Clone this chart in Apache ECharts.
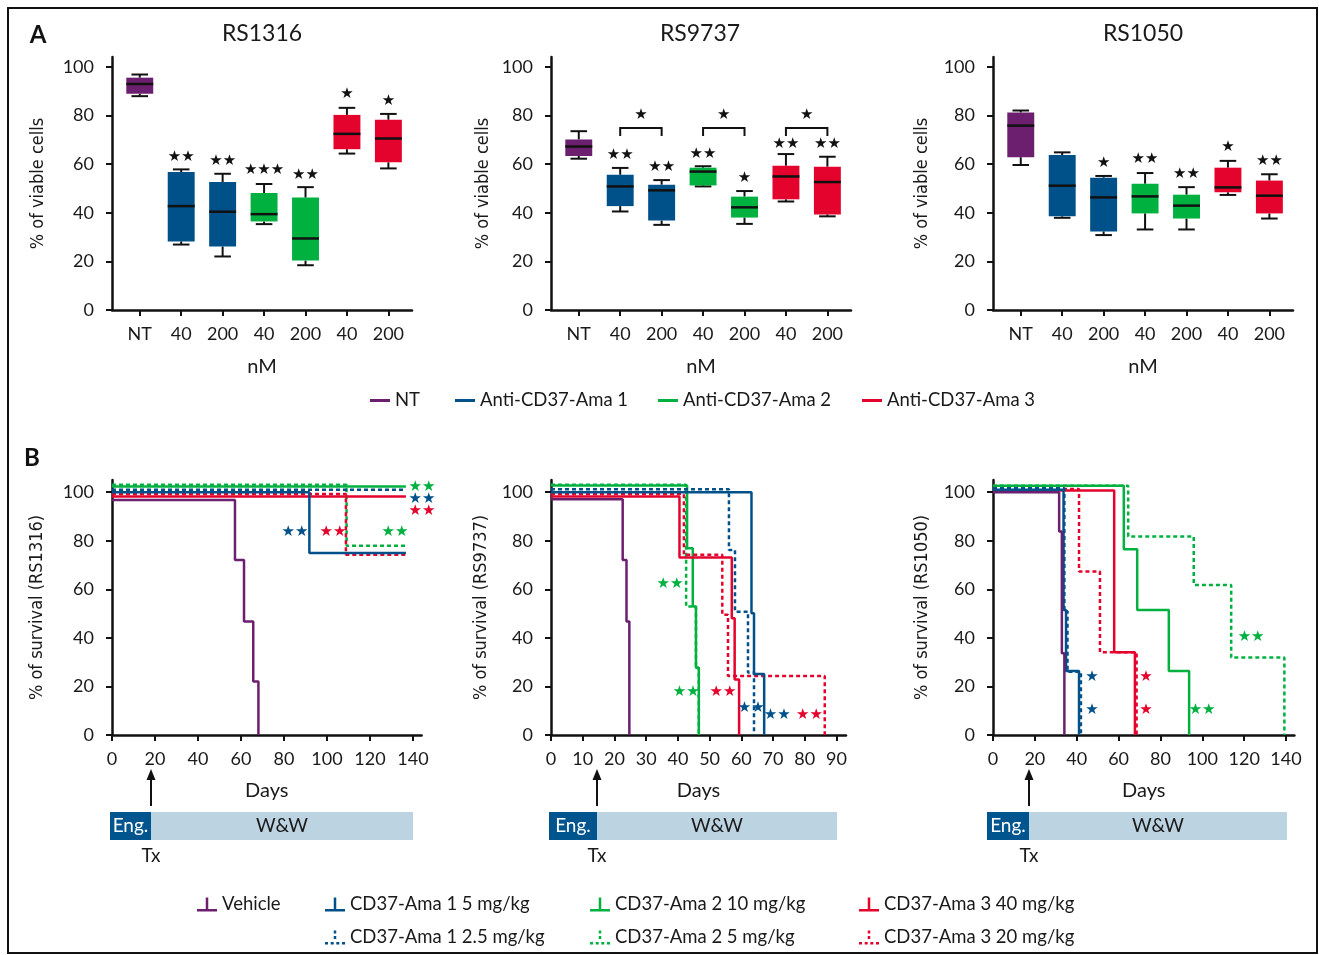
<!DOCTYPE html>
<html><head><meta charset="utf-8">
<script src="https://cdn.jsdelivr.net/npm/echarts@6.0.0/dist/echarts.min.js"></script>
<style>html,body{margin:0;padding:0;background:#fff}#c{width:1319px;height:955px}</style>
</head><body><div id="c"></div>
<script>
// ---------- Panel A data ----------
const categories = ['NT', '40', '200', '40', '200', '40', '200'];
const boxGroup = [0, 1, 1, 2, 2, 3, 3];
const groupNames = ['NT', 'Anti-CD37-Ama 1', 'Anti-CD37-Ama 2', 'Anti-CD37-Ama 3'];
const colors = ['#6b1f6e', '#00508a', '#00b140', '#e4032d'];
const panelTitles = ['RS1316', 'RS9737', 'RS1050'];
const yTicks = [0, 20, 40, 60, 80, 100];
// each box: [min, q1, median, q3, max]
const boxRS1316 = [[87.9, 88.9, 92.9, 95.5, 96.8], [26.9, 28.2, 42.7, 56.7, 57.8], [22.0, 26.1, 40.4, 52.6, 56.0], [35.3, 36.4, 39.4, 48.1, 51.8], [18.4, 20.3, 29.4, 46.2, 50.5], [64.3, 66.1, 72.4, 80.2, 83.1], [58.2, 60.7, 70.5, 78.2, 80.6]];
const boxRS9737 = [[62.2, 63.3, 67.2, 70.1, 73.5], [40.5, 42.7, 50.8, 55.6, 58.4], [35.0, 36.8, 49.2, 51.5, 53.4], [50.8, 51.2, 56.9, 58.5, 59.1], [35.4, 38.0, 42.2, 46.6, 48.9], [44.6, 45.5, 54.9, 59.3, 64.1], [38.5, 39.3, 52.6, 58.9, 63.0]];
const boxRS1050 = [[59.6, 62.8, 75.8, 81.2, 82.0], [37.9, 38.5, 51.1, 63.7, 64.8], [30.8, 32.3, 46.3, 54.4, 55.1], [33.1, 39.7, 46.7, 51.9, 56.3], [33.1, 37.6, 42.9, 47.4, 50.5], [47.3, 48.4, 50.4, 58.5, 61.3], [37.6, 39.7, 47.0, 53.2, 55.8]];
// significance marks [category index, y value, text]
const starsA1316 = [[1, 63.0, '**'], [2, 61.2, '**'], [3, 57.3, '***'], [4, 55.5, '**'], [5, 88.6, '*'], [6, 86.0, '*']];
const starsA9737 = [[1, 63.7, '**'], [2, 58.9, '**'], [3, 64.1, '**'], [4, 54.4, '*'], [5, 68.2, '**'], [6, 68.2, '**'], [1.5, 80.1, '*'], [3.5, 80.1, '*'], [5.5, 80.1, '*']];
const starsA1050 = [[2, 60.3, '*'], [3, 61.9, '**'], [4, 55.9, '**'], [5, 66.9, '*'], [6, 61.0, '**']];
// brackets [x1, x2, top, drop]
const brackets9737 = [[1, 2, 74.8, 71.5], [3, 4, 74.8, 71.5], [5, 6, 74.8, 71.5]];

// ---------- Panel B data ----------
const kmNames = ['Vehicle', 'CD37-Ama 1 5 mg/kg', 'CD37-Ama 1 2.5 mg/kg', 'CD37-Ama 2 10 mg/kg', 'CD37-Ama 2 5 mg/kg', 'CD37-Ama 3 40 mg/kg', 'CD37-Ama 3 20 mg/kg'];
const kmGroup = [0, 1, 1, 2, 2, 3, 3];
const kmDotted = [false, false, true, false, true, false, true];
const dayTicks1316 = [0, 20, 40, 60, 80, 100, 120, 140];
const dayTicks9737 = [0, 10, 20, 30, 40, 50, 60, 70, 80, 90];
const dayTicks1050 = [0, 20, 40, 60, 80, 100, 120, 140];
// survival curves: [day, % survival] change points (step at end)
const km1316 = [
  [[0, 96.8], [57.2, 72.1], [61.4, 46.7], [65.7, 22.0], [68.1, 0]],
  [[0, 100], [91.8, 74.9], [136.7, 74.9]],
  [[0, 101], [136.7, 101]],
  [[0, 102.3], [136.7, 102.3]],
  [[0, 103], [109.1, 77.9], [136.7, 77.9]],
  [[0, 98.2], [136.7, 98.2]],
  [[0, 99.2], [108.8, 74.2], [136.7, 74.2]]
];
const km9737 = [
  [[0, 97.1], [22.6, 72.1], [23.8, 46.7], [24.7, 0]],
  [[0, 100], [63.2, 50.1], [64.0, 25.1], [67.2, 0]],
  [[0, 101.2], [56.1, 76.2], [58.0, 50.8], [62.1, 25.7], [64.0, 0]],
  [[0, 102.7], [42.9, 76.9], [44.7, 52.9], [45.7, 27.7], [46.6, 0]],
  [[0, 103], [42.6, 52.9], [45.7, 27.7], [46.6, 0]],
  [[0, 98.2], [40.5, 73.1], [57.0, 48.1], [57.9, 22.9], [59.3, 0]],
  [[0, 99.2], [41.9, 74.2], [54.0, 49.5], [55.8, 24.3], [86.3, 0]]
];
const km1050 = [
  [[0, 100], [31.6, 83.8], [32.9, 33.7], [34.1, 0]],
  [[0, 101], [33.7, 51.5], [34.9, 26.4], [41.1, 0]],
  [[0, 101.6], [34.1, 51.0], [35.6, 26.0], [42.0, 0]],
  [[0, 102.6], [62.5, 76.5], [68.9, 51.5], [84.0, 26.4], [93.7, 0]],
  [[0, 102.6], [64.6, 81.7], [95.9, 61.8], [113.8, 31.9], [139.2, 0]],
  [[0, 100.7], [57.9, 34.1], [67.8, 0]],
  [[0, 101.3], [41.1, 67.3], [51.1, 34.1], [68.6, 0]]
];
// [day, y value, text, color group]
const starsB1316 = [[144.2, 102, '**', 2], [144.2, 97.1, '**', 1], [144.2, 92.2, '**', 3], [85.1, 83.5, '**', 1], [102.8, 83.5, '**', 3], [131.6, 83.5, '**', 2]];
const starsB9737 = [[37.5, 62.1, '**', 2], [42.6, 17.7, '**', 2], [54.2, 17.7, '**', 3], [63.1, 11.1, '**', 1], [71.3, 8.2, '**', 1], [81.5, 8.2, '**', 3]];
const starsB1050 = [[47.3, 24.0, '*', 1], [47.3, 10.3, '*', 1], [73.1, 24.0, '*', 3], [73.1, 10.3, '*', 3], [99.9, 10.3, '**', 2], [123.3, 40.5, '**', 2]];

// ---------- layout ----------
const FONT = 'Lato';
const NARROW = "'DejaVu Sans Condensed', 'Liberation Sans Narrow', 'Roboto', sans-serif";
const TXT = '#1a1a1a';
const gridsA = [{ left: 112, gap: 65 }, { left: 551, gap: 59 }, { left: 993, gap: 62 }];
const gridsB = [{ left: 112, width: 309.6, max: 144, gap: 66, ticks: dayTicks1316 }, { left: 551, width: 295, max: 93, gap: 61, ticks: dayTicks9737 }, { left: 993, width: 301.4, max: 144, gap: 62, ticks: dayTicks1050 }];

const grid = [], xAxis = [], yAxis = [], series = [];
const axisLineStyle = { color: '#111', width: 2.5 };
const tickStyle = { length: 6, lineStyle: { color: '#111', width: 2 } };

gridsA.forEach((g, i) => {
  grid.push({ left: g.left, top: 57, width: 300, height: 253, outerBoundsMode: 'none', containLabel: false });
  xAxis.push({
    type: 'value', gridIndex: i, min: -0.67, max: 6.57,
    axisLine: { show: true, onZero: false, lineStyle: axisLineStyle },
    axisTick: Object.assign({ show: true, customValues: [0, 1, 2, 3, 4, 5, 6] }, tickStyle),
    axisLabel: { customValues: [0, 1, 2, 3, 4, 5, 6], formatter: v => categories[Math.round(v)], fontSize: 18, fontFamily: FONT, color: TXT, margin: 15 },
    splitLine: { show: false },
    name: 'nM', nameLocation: 'middle', nameGap: 47, nameTextStyle: { fontSize: 20, fontFamily: FONT, color: TXT }
  });
  yAxis.push({
    type: 'value', gridIndex: i, min: 0, max: 104,
    axisLine: { show: true, onZero: false, lineStyle: axisLineStyle },
    axisTick: Object.assign({ show: true, customValues: yTicks }, tickStyle),
    axisLabel: { customValues: yTicks, fontSize: 18, fontFamily: FONT, color: TXT, margin: 18 },
    splitLine: { show: false },
    name: '% of viable cells', nameLocation: 'middle', nameRotate: 90, nameGap: g.gap,
    nameTextStyle: { fontSize: 18, fontFamily: NARROW, color: TXT }
  });
});
gridsB.forEach((g, j) => {
  const i = j + 3;
  grid.push({ left: g.left, top: 480, width: g.width, height: 255, outerBoundsMode: 'none', containLabel: false });
  xAxis.push({
    type: 'value', gridIndex: i, min: 0, max: g.max,
    axisLine: { show: true, onZero: false, lineStyle: axisLineStyle },
    axisTick: Object.assign({ show: true, customValues: g.ticks }, tickStyle),
    axisLabel: { customValues: g.ticks, fontSize: 18, fontFamily: FONT, color: TXT, margin: 15 },
    splitLine: { show: false },
    name: 'Days', nameLocation: 'middle', nameGap: 46, nameTextStyle: { fontSize: 20, fontFamily: FONT, color: TXT }
  });
  yAxis.push({
    type: 'value', gridIndex: i, min: 0, max: 105,
    axisLine: { show: true, onZero: false, lineStyle: axisLineStyle },
    axisTick: Object.assign({ show: true, customValues: yTicks }, tickStyle),
    axisLabel: { customValues: yTicks, fontSize: 18, fontFamily: FONT, color: TXT, margin: 18 },
    splitLine: { show: false },
    name: '% of survival (' + panelTitles[j] + ')', nameLocation: 'middle', nameRotate: 90, nameGap: g.gap,
    nameTextStyle: { fontSize: 18, fontFamily: NARROW, color: TXT }
  });
});

function renderBox(params, api) {
  const x = api.value(0);
  const lo = api.coord([x, api.value(1)]);
  const q1 = api.coord([x, api.value(2)]);
  const md = api.coord([x, api.value(3)]);
  const q3 = api.coord([x, api.value(4)]);
  const hi = api.coord([x, api.value(5)]);
  const u = api.size([1, 0])[0];
  const bw = u * 0.65, cw = u * 0.4, cx = md[0];
  const ls = { stroke: '#111', lineWidth: 2 };
  return {
    type: 'group', children: [
      { type: 'line', shape: { x1: cx, y1: hi[1], x2: cx, y2: q3[1] }, style: ls },
      { type: 'line', shape: { x1: cx, y1: q1[1], x2: cx, y2: lo[1] }, style: ls },
      { type: 'line', shape: { x1: cx - cw / 2, y1: hi[1], x2: cx + cw / 2, y2: hi[1] }, style: ls },
      { type: 'line', shape: { x1: cx - cw / 2, y1: lo[1], x2: cx + cw / 2, y2: lo[1] }, style: ls },
      { type: 'rect', shape: { x: cx - bw / 2, y: q3[1], width: bw, height: q1[1] - q3[1] }, style: { fill: api.visual('color') } },
      { type: 'line', shape: { x1: cx - bw / 2, y1: md[1], x2: cx + bw / 2, y2: md[1] }, style: { stroke: '#111', lineWidth: 2.5 } }
    ]
  };
}
function starText(t) { return t.replace(/\*/g, '\u2605'); }
function starSeries(gi, data, colorFn) {
  return {
    type: 'custom', xAxisIndex: gi, yAxisIndex: gi, silent: true, z: 5,
    data: data,
    encode: { x: 0, y: 1 },
    renderItem: (params, api) => {
      const d = data[params.dataIndex];
      const p = api.coord([d[0], d[1]]);
      return { type: 'text', x: p[0], y: p[1], style: { text: starText(d[2]), fill: colorFn(d), font: '15px "DejaVu Sans"', align: 'center', verticalAlign: 'middle' } };
    }
  };
}

[boxRS1316, boxRS9737, boxRS1050].forEach((boxes, gi) => {
  groupNames.forEach((nm, g) => {
    const data = [];
    boxes.forEach((b, k) => { if (boxGroup[k] === g) data.push([k].concat(b)); });
    series.push({ type: 'custom', name: nm, xAxisIndex: gi, yAxisIndex: gi, itemStyle: { color: colors[g] }, data, encode: { x: 0, y: [1, 2, 3, 4, 5] }, renderItem: renderBox });
  });
});
series.push({
  type: 'custom', xAxisIndex: 1, yAxisIndex: 1, silent: true, data: brackets9737, encode: { x: [0, 1], y: [2, 3] },
  renderItem: (params, api) => {
    const a = api.coord([api.value(0), api.value(3)]), b = api.coord([api.value(0), api.value(2)]);
    const c = api.coord([api.value(1), api.value(2)]), d = api.coord([api.value(1), api.value(3)]);
    return { type: 'polyline', shape: { points: [a, b, c, d] }, style: { stroke: '#111', lineWidth: 2, fill: null } };
  }
});
series.push(starSeries(0, starsA1316, () => '#111'));
series.push(starSeries(1, starsA9737, () => '#111'));
series.push(starSeries(2, starsA1050, () => '#111'));

const drawOrder = [3, 4, 5, 6, 1, 2, 0];
[km1316, km9737, km1050].forEach((curves, j) => {
  const gi = j + 3;
  drawOrder.forEach(k => {
    series.push({
      type: 'line', name: kmNames[k], xAxisIndex: gi, yAxisIndex: gi, step: 'end', showSymbol: false, symbol: 'none',
      data: curves[k], color: colors[kmGroup[k]],
      lineStyle: { width: 2.5, color: colors[kmGroup[k]], type: kmDotted[k] ? [4, 3] : 'solid' },
      silent: true, animation: false
    });
  });
});
series.push(starSeries(3, starsB1316, d => colors[d[3]]));
series.push(starSeries(4, starsB9737, d => colors[d[3]]));
series.push(starSeries(5, starsB1050, d => colors[d[3]]));

// ---------- legends ----------
const iconLine = 'path://M0,0h20v3h-20z';
const iconT = 'path://M0,11.5h20v2.5h-20z M8.75,0h2.5v11.5h-2.5z';
const iconTdot = 'path://M0,11.5h3v2.5h-3z M5.7,11.5h3v2.5h-3z M11.3,11.5h3v2.5h-3z M17,11.5h3v2.5h-3z M8.75,0h2.5v3h-2.5z M8.75,5.5h2.5v3h-2.5z';
const legendTextStyle = { fontSize: 18.5, fontFamily: FONT, color: TXT };
const legend = [];
[[370, 0], [455, 1], [658, 2], [862, 3]].forEach(([l, g]) => {
  legend.push({ left: l, top: 391, padding: 0, itemWidth: 20, itemHeight: 3, selectedMode: false, textStyle: legendTextStyle,
    data: [{ name: groupNames[g], icon: iconLine, itemStyle: { color: colors[g], borderWidth: 0 } }] });
});
[[197, 895, 0], [325, 895, 1], [590, 895, 3], [859, 895, 5], [325, 928, 2], [590, 928, 4], [859, 928, 6]].forEach(([l, t, k]) => {
  legend.push({ left: l, top: t, padding: 0, itemWidth: 20, itemHeight: 14, selectedMode: false, textStyle: legendTextStyle,
    data: [{ name: kmNames[k], icon: kmDotted[k] ? iconTdot : iconT, itemStyle: { color: colors[kmGroup[k]], borderWidth: 0 } }] });
});

// ---------- annotations ----------
const graphic = [
  { type: 'rect', shape: { x: 8, y: 8, width: 1309, height: 945 }, style: { fill: null, stroke: '#111', lineWidth: 2 }, silent: true },
  { type: 'text', x: 38, y: 35, style: { text: 'A', font: 'bold 24px ' + FONT, fill: '#111', align: 'center', verticalAlign: 'middle' } },
  { type: 'text', x: 32, y: 458, style: { text: 'B', font: 'bold 24px ' + FONT, fill: '#111', align: 'center', verticalAlign: 'middle' } }
];
[262, 700, 1143].forEach((cx, j) => {
  graphic.push({ type: 'text', x: cx, y: 34, style: { text: panelTitles[j], font: '23px ' + FONT, fill: TXT, align: 'center', verticalAlign: 'middle' } });
});
const treat = [{ x0: 110, x1: 151, x2: 413 }, { x0: 549, x1: 597, x2: 837 }, { x0: 987, x1: 1029, x2: 1287 }];
treat.forEach(t => {
  graphic.push({ type: 'rect', shape: { x: t.x1, y: 812, width: t.x2 - t.x1, height: 28 }, style: { fill: '#bcd3e1' } });
  graphic.push({ type: 'rect', shape: { x: t.x0, y: 812, width: t.x1 - t.x0, height: 28 }, style: { fill: '#00558f' } });
  graphic.push({ type: 'text', x: (t.x0 + t.x1) / 2, y: 826, style: { text: 'Eng.', font: '19px ' + FONT, fill: '#fff', align: 'center', verticalAlign: 'middle' } });
  graphic.push({ type: 'text', x: (t.x1 + t.x2) / 2, y: 826, style: { text: 'W&W', font: '19px ' + FONT, fill: TXT, align: 'center', verticalAlign: 'middle' } });
  graphic.push({ type: 'line', shape: { x1: t.x1, y1: 806, x2: t.x1, y2: 777 }, style: { stroke: '#111', lineWidth: 2 } });
  graphic.push({ type: 'polygon', shape: { points: [[t.x1, 769], [t.x1 - 4.5, 780], [t.x1 + 4.5, 780]] }, style: { fill: '#111' } });
  graphic.push({ type: 'text', x: t.x1, y: 856, style: { text: 'Tx', font: '19px ' + FONT, fill: TXT, align: 'center', verticalAlign: 'middle' } });
});

const chart = echarts.init(document.getElementById('c'), null, { renderer: 'canvas' });
chart.setOption({
  backgroundColor: '#fff', animation: false,
  grid, xAxis, yAxis, series, legend, graphic
});
</script></body></html>
